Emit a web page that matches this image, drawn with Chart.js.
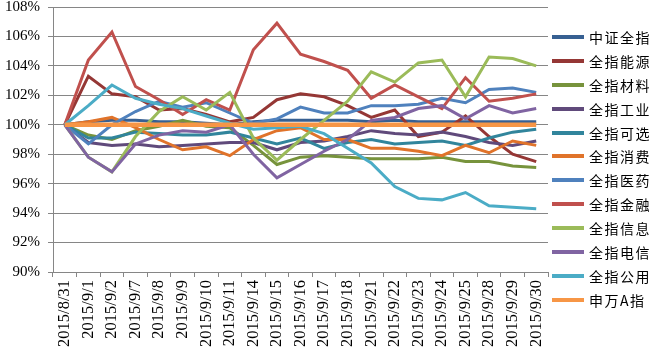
<!DOCTYPE html>
<html>
<head>
<meta charset="utf-8">
<script src="https://cdn.jsdelivr.net/npm/chart.js@4"></script>
<style>
  body { margin: 0; background: #fff; }
  #wrap { position: relative; width: 656px; height: 354px; }
  #legend { position: absolute; left: 552px; top: 25px; }
  .item { height: 23.9px; display: flex; align-items: center; }
  .swatch { width: 32px; height: 4px; margin-right: 5px; }
  .label { font-family: "Noto Sans CJK SC", sans-serif; font-size: 14px; letter-spacing: 1.5px; color: #000; }
</style>
</head>
<body>
<div id="wrap">
  <canvas id="chart" width="656" height="354"></canvas>
  <div id="legend"></div>
</div>
<script>
const categories = ["2015/8/31", "2015/9/1", "2015/9/2", "2015/9/7", "2015/9/8", "2015/9/9", "2015/9/10",
  "2015/9/11", "2015/9/14", "2015/9/15", "2015/9/16", "2015/9/17", "2015/9/18", "2015/9/21",
  "2015/9/22", "2015/9/23", "2015/9/24", "2015/9/25", "2015/9/28", "2015/9/29", "2015/9/30"];

const zhongzheng = [100, 100.2, 100.3, 100.3, 100.2, 100.2, 100.1, 100.0, 100.2, 100.3, 100.3, 100.3, 100.3, 100.2, 100.3, 100.2, 100.2, 100.2, 100.2, 100.2, 100.2];
const nengyuan = [100, 103.3, 102.1, 101.9, 101.0, 101.1, 100.7, 100.2, 100.5, 101.7, 102.1, 101.9, 101.3, 100.5, 101.0, 99.2, 99.5, 100.6, 99.2, 98.0, 97.5];
const cailiao = [100, 99.3, 99.0, 99.6, 99.9, 100.3, 99.9, 99.8, 98.6, 97.3, 97.8, 97.9, 97.8, 97.7, 97.7, 97.7, 97.8, 97.5, 97.5, 97.2, 97.1];
const gongye = [100, 98.8, 98.6, 98.7, 98.5, 98.6, 98.7, 98.8, 98.8, 98.3, 98.8, 98.9, 99.2, 99.6, 99.4, 99.3, 99.5, 99.2, 98.8, 98.6, 98.9];
const kexuan = [100, 99.1, 99.1, 99.5, 99.4, 99.3, 99.3, 99.5, 99.1, 98.7, 99.1, 98.4, 98.8, 99.0, 98.7, 98.8, 98.9, 98.6, 99.1, 99.5, 99.7];
const xiaofei = [100, 100.2, 100.5, 99.8, 99.0, 98.3, 98.5, 97.9, 99.0, 99.6, 99.8, 99.0, 99.0, 98.4, 98.4, 98.2, 97.9, 98.6, 98.1, 98.9, 98.6];
const yiyao = [100, 98.7, 100.0, 100.9, 101.6, 101.2, 101.5, 100.8, 100.1, 100.4, 101.2, 100.8, 100.8, 101.3, 101.3, 101.4, 101.8, 101.5, 102.4, 102.5, 102.2];
const jinrong = [100, 104.4, 106.3, 102.6, 101.7, 100.7, 101.7, 101.0, 105.1, 106.9, 104.8, 104.3, 103.7, 101.8, 102.7, 101.9, 101.1, 103.2, 101.6, 101.8, 102.1];
const xinxi = [100, 97.8, 96.8, 99.2, 100.9, 101.9, 101.0, 102.2, 99.1, 97.6, 99.0, 100.3, 101.6, 103.6, 102.9, 104.2, 104.4, 101.9, 104.6, 104.5, 104.0];
const dianxin = [100, 97.8, 96.8, 98.7, 99.3, 99.6, 99.5, 100.0, 98.0, 96.4, 97.3, 98.2, 99.0, 100.3, 100.5, 101.1, 101.3, 100.4, 101.3, 100.8, 101.1];
const gongyong = [100, 101.3, 102.7, 101.8, 101.4, 101.1, 100.6, 100.1, 99.7, 99.8, 99.9, 99.4, 98.4, 97.4, 95.8, 95.0, 94.9, 95.4, 94.5, 94.4, 94.3];
const shenwan = [100, 100, 100, 100, 100, 100, 100, 100, 100, 100, 100, 100, 100, 100, 100, 100, 100, 100, 100, 100, 100];

const seriesNames = ["中证全指", "全指能源", "全指材料", "全指工业", "全指可选", "全指消费",
  "全指医药", "全指金融", "全指信息", "全指电信", "全指公用", "申万A指"];
const seriesData = [zhongzheng, nengyuan, cailiao, gongye, kexuan, xiaofei,
  yiyao, jinrong, xinxi, dianxin, gongyong, shenwan];
const seriesColors = ["#376092", "#953735", "#77933C", "#604A7B", "#31859C", "#E0732A",
  "#4F81BD", "#C0504D", "#9BBB59", "#8064A2", "#4BACC6", "#F79646"];

const yTicks = [90, 92, 94, 96, 98, 100, 102, 104, 106, 108];

const gridColor = "#868686";

const datasets = seriesNames.map((name, i) => ({
  label: name,
  data: seriesData[i],
  borderColor: seriesColors[i],
  backgroundColor: seriesColors[i],
  borderWidth: i === 11 ? 4.5 : 3,
  pointRadius: 0,
  tension: 0,
  order: seriesNames.length - i
}));

// legend on the right, drawn as html
const legendBox = document.getElementById("legend");
seriesNames.forEach((name, i) => {
  const row = document.createElement("div");
  row.className = "item";
  row.innerHTML = `<div class="swatch" style="background:${seriesColors[i]}"></div><span class="label">${name}</span>`;
  legendBox.appendChild(row);
});

new Chart(document.getElementById("chart"), {
  type: "line",
  data: { labels: categories, datasets: datasets },
  options: {
    responsive: false,
    animation: false,
    layout: { padding: { top: 7, right: 108, bottom: 0, left: 0 } },
    plugins: { legend: { display: false }, tooltip: { enabled: false } },
    scales: {
      x: {
        offset: true,
        grid: { offset: true, drawOnChartArea: false, color: gridColor, tickLength: 5 },
        border: { color: gridColor },
        ticks: {
          autoSkip: false, minRotation: 90, maxRotation: 90, padding: 3,
          color: "#000", font: { family: "Liberation Serif", size: 16.5 }
        },
        afterFit: (scale) => { scale.height = 82; scale.paddingLeft = 0; scale.paddingRight = 0; }
      },
      y: {
        min: 90,
        max: 108,
        afterBuildTicks: (scale) => { scale.ticks = yTicks.map(v => ({ value: v })); },
        grid: { color: gridColor, tickLength: 5 },
        border: { color: gridColor },
        ticks: {
          padding: 8, color: "#000",
          font: { family: "Liberation Serif", size: 15 },
          callback: (v) => v + "%"
        },
        afterFit: (scale) => { scale.width = 53; scale.paddingTop = 0; scale.paddingBottom = 0; }
      }
    }
  }
});
</script>
</body>
</html>
